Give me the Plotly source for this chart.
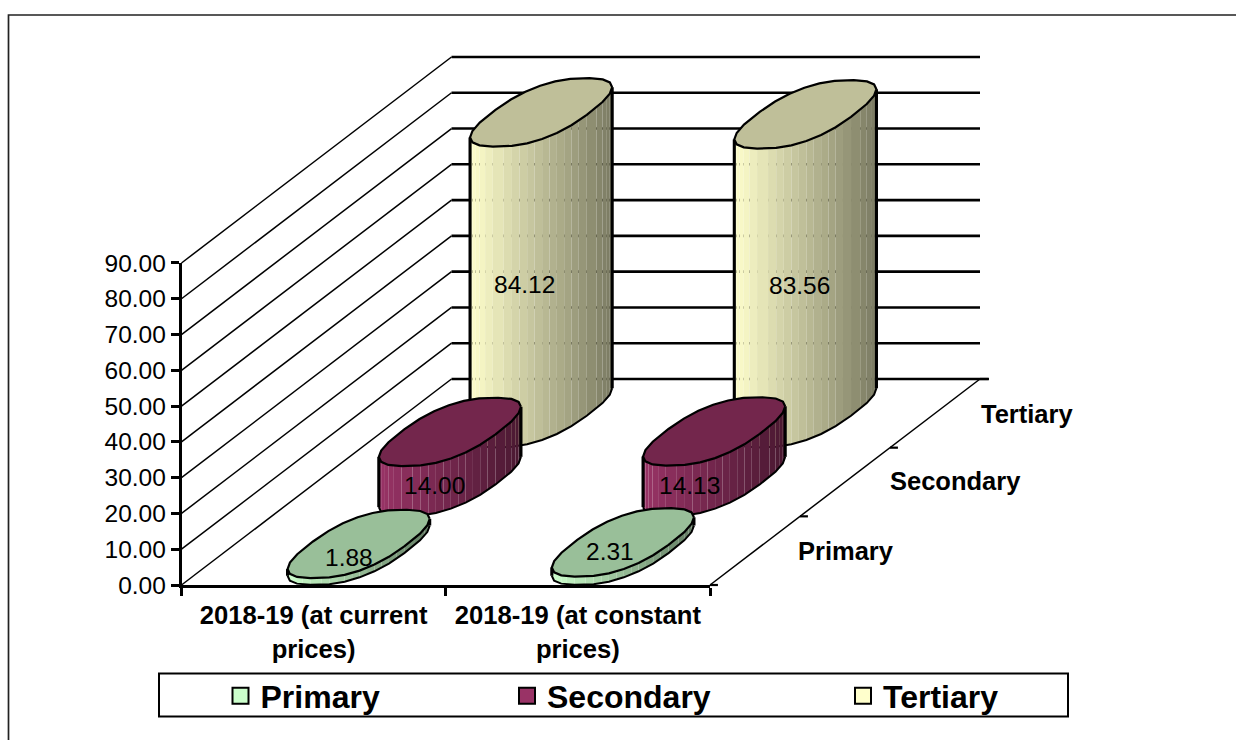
import math
import plotly.graph_objects as go

categories = ["2018-19 (at current<br>prices)", "2018-19 (at constant<br>prices)"]
series_names = ["Primary", "Secondary", "Tertiary"]
primary = [1.88, 2.31]
secondary = [14.00, 14.13]
tertiary = [84.12, 83.56]
value_ticks = [0, 10, 20, 30, 40, 50, 60, 70, 80, 90]

series_values = [primary, secondary, tertiary]
base_colors = [(204, 255, 204), (153, 51, 102), (255, 255, 204)]

W, H = 1236, 740
X0, Y0 = 181.5, 585.0          # pixel of category 0 / value 0
SX, SY = 264.25, 3.578         # pixels per category / per value unit
DX, DY = 270 / SX, 206 / SY    # oblique depth vector in axis units
RX, RD = 0.185, 0.166          # cylinder radius along category / depth
EXP = 2.5                      # footprint squareness
FONT = "Liberation Sans, Arial, sans-serif"


def proj(c, d, v):
    return c + d * DX, v + d * DY


def shade(rgb, k):
    return "rgb(%d,%d,%d)" % tuple(round(ch * k) for ch in rgb)


def sp(t):
    return math.copysign(abs(t) ** (2 / EXP), t)


fig = go.Figure()


def line(xs, ys, width, color="black"):
    fig.add_trace(go.Scatter(x=xs, y=ys, mode="lines", line=dict(color=color, width=width),
                             hoverinfo="skip", showlegend=False, xaxis="x", yaxis="y"))


# back wall and side wall
for v in value_ticks:
    x0, y0 = proj(0, 1, v)
    x1, y1 = proj(2, 1, v)
    line([x0, x1 + (0.034 if v == 0 else 0)], [y0, y1], 2.6)
    line([0, x0], [v, y0], 1.5)

# floor edge and its ticks
line([2, 2 + DX], [0, DY], 1.5)
for k in range(4):
    x, y = proj(2, k / 3, 0)
    line([x, x + 0.03], [y, y], 2.2)

# cylinders, back to front
N = 24


def disc(c, d, v, theta):
    return proj(c + RX * sp(math.cos(theta)), d + RD * sp(math.sin(theta)), v)


# angle of the right silhouette of the footprint
SIL = max((k * math.pi / 1440 for k in range(720)), key=lambda a: disc(0, 0, 0, a)[0])

for s in (2, 1, 0):
    rgb = base_colors[s]
    d = (s + 0.5) / 3
    for i, val in enumerate(series_values[s]):
        c = i + 0.5 + s * 1.25 / SX
        # body: strips along the front arc, left silhouette to right silhouette
        steps = N  # half polygon (N/2 edges) split in two
        angs = [SIL + math.pi + k * math.pi / steps for k in range(steps + 1)]
        xl = disc(c, d, 0, angs[0])[0]
        xr = disc(c, d, 0, angs[-1])[0]
        for a0, a1 in zip(angs[:-1], angs[1:]):
            b0 = disc(c, d, 0, a0)
            b1 = disc(c, d, 0, a1)
            t0 = disc(c, d, val, a0)
            t1 = disc(c, d, val, a1)
            f = ((b0[0] + b1[0]) / 2 - xl) / (xr - xl)
            fig.add_trace(go.Scatter(
                x=[b0[0], b1[0], t1[0], t0[0], b0[0]],
                y=[b0[1], b1[1], t1[1], t0[1], b0[1]],
                mode="none", fill="toself", fillcolor=shade(rgb, 1 - 0.52 * f),
                hoverinfo="skip", showlegend=False, xaxis="x", yaxis="y"))
        # base outline and silhouettes
        coarse = [SIL + math.pi + k * 2 * math.pi / N for k in range(N // 2 + 1)]
        pts = [disc(c, d, 0, a) for a in coarse]
        line([p[0] for p in pts], [p[1] for p in pts], 2)
        for a in (coarse[0], coarse[-1]):
            p0 = disc(c, d, 0, a)
            p1 = disc(c, d, val, a)
            line([p0[0], p1[0]], [p0[1], p1[1]], 3.1)
        # top
        coarse = [SIL + k * 2 * math.pi / N for k in range(N + 1)]
        pts = [disc(c, d, val, a) for a in coarse]
        fig.add_trace(go.Scatter(
            x=[p[0] for p in pts], y=[p[1] for p in pts], mode="lines", fill="toself",
            fillcolor=shade(rgb, 0.75), line=dict(color="black", width=2.2),
            hoverinfo="skip", showlegend=False, xaxis="x", yaxis="y"))

# legend entries, one positioned legend each
legend_x = [220.5, 507, 843]
for s, name in enumerate(series_names):
    key = "legend" if s == 0 else "legend%d" % (s + 1)
    fig.add_trace(go.Scatter(
        x=[None], y=[None], mode="markers", name=name, legend=key,
        marker=dict(symbol="square", size=18, color=shade(base_colors[s], 1),
                    line=dict(color="black", width=2)),
        xaxis="x2", yaxis="y2"))

# text on the marks
label_shift = {(2, 0): (-14, -22), (2, 1): (-3, -22), (1, 0): (-14, -29), (1, 1): (-23, -29),
               (0, 0): (-10, -10), (0, 1): (-13, -5)}
annotations = []
for s in range(3):
    d = (s + 0.5) / 3
    for i, val in enumerate(series_values[s]):
        x, y = proj(i + 0.5, d, val / 2)
        sx, sy = label_shift[(s, i)]
        annotations.append(dict(x=x, y=y, xref="x", yref="y", text="%.2f" % val, showarrow=False,
                                xshift=sx, yshift=sy, font=dict(family=FONT, size=24.5, color="black")))
depth_shift = [(91, 0), (110, 1), (92, -1)]
for s, name in enumerate(series_names):
    x, y = proj(2, (s + 0.5) / 3, 0)
    annotations.append(dict(x=x, y=y, xref="x", yref="y", text="<b>%s</b>" % name, showarrow=False,
                            xshift=depth_shift[s][0], yshift=depth_shift[s][1],
                            font=dict(family=FONT, size=25.5, color="black")))

legends = {}
for s in range(3):
    key = "legend" if s == 0 else "legend%d" % (s + 1)
    legends[key] = dict(x=legend_x[s] / W, y=1 - 696 / H, xanchor="left", yanchor="middle",
                        bgcolor="rgba(0,0,0,0)", font=dict(family=FONT, size=32, color="black", weight="bold"),
                        itemclick=False, itemdoubleclick=False)

fig.update_layout(
    width=W, height=H, margin=dict(l=0, r=0, t=0, b=0, autoexpand=False), autosize=False,
    paper_bgcolor="white", plot_bgcolor="rgba(0,0,0,0)", hovermode=False,
    font=dict(family=FONT, color="black"),
    xaxis=dict(domain=[0, 1], range=[-X0 / SX, (W - X0) / SX], visible=False, fixedrange=True),
    yaxis=dict(domain=[0, 1], range=[(Y0 - H) / SY, Y0 / SY], visible=False, fixedrange=True),
    xaxis2=dict(domain=[X0 / W, (X0 + 2 * SX) / W], range=[0, 2], anchor="y2", showgrid=False, zeroline=False,
                showline=True, linecolor="black", linewidth=2.5, fixedrange=True,
                tickmode="array", tickvals=[0.5, 1.5], ticktext=["<b>%s</b>" % c for c in categories],
                ticks="", ticklabelstandoff=6, tickfont=dict(family=FONT, size=25.6, color="black"),
                minor=dict(tickmode="array", tickvals=[0, 1, 2], ticks="outside", ticklen=8, tickwidth=2.5, tickcolor="black", showgrid=False)),
    yaxis2=dict(domain=[1 - Y0 / H, 1 - (Y0 - 90 * SY) / H], range=[0, 90], anchor="x2", showgrid=False, zeroline=False,
                showline=True, linecolor="black", linewidth=2.5, fixedrange=True,
                tickmode="array", tickvals=value_ticks, tickformat=".2f", ticks="outside", ticklen=8, tickwidth=2.5,
                tickcolor="black", tickfont=dict(family=FONT, size=24.5, color="black")),
    annotations=annotations,
    shapes=[
        dict(type="rect", xref="paper", yref="paper", x0=8.5 / W, x1=1.02, y0=-0.02, y1=1 - 15 / H,
             line=dict(color="#222222", width=1.7), layer="below"),
        dict(type="rect", xref="paper", yref="paper", x0=159 / W, x1=1068 / W, y0=1 - 716.5 / H, y1=1 - 673.5 / H,
             line=dict(color="black", width=2), layer="below"),
    ],
    **legends,
)

fig.write_html("out.html", post_script="document.body.style.margin='0';document.body.style.overflow='hidden';", config={"displayModeBar": False})
